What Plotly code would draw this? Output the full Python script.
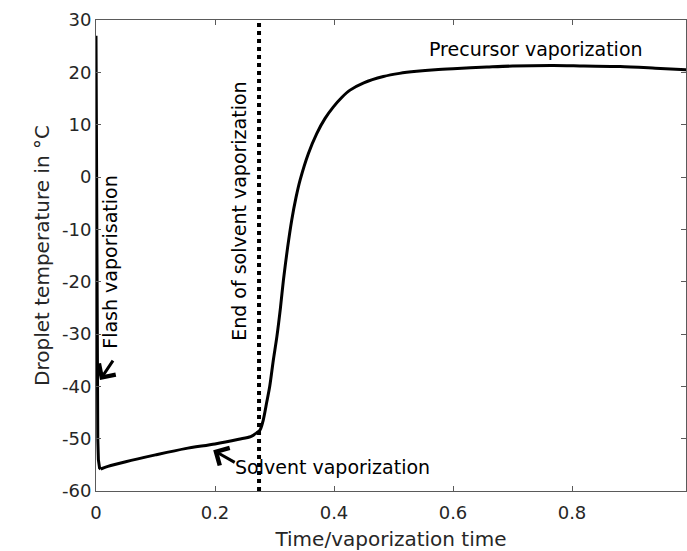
import plotly.graph_objects as go

time_frac = [0, 0.0005, 0.001, 0.0015, 0.002, 0.003, 0.004, 0.006, 0.008, 0.02, 0.05,
             0.1, 0.15, 0.2, 0.24, 0.26, 0.27, 0.276, 0.281, 0.287, 0.292, 0.298, 0.304,
             0.31, 0.315, 0.322, 0.329, 0.336, 0.343, 0.357, 0.371, 0.385, 0.399, 0.413,
             0.427, 0.45, 0.483, 0.51, 0.539, 0.57, 0.6, 0.657, 0.7, 0.769, 0.82, 0.881,
             0.94, 0.993]
temperature = [27, 10, -10, -30, -42, -50, -54, -55.6, -55.8, -55.3, -54.4,
               -53.1, -51.9, -51.0, -50.1, -49.6, -48.9, -48.3, -46.5, -43, -40, -35, -30.5,
               -25, -19.7, -13.5, -8.2, -4, -0.6, 4.5, 8.3, 11.2, 13.4, 15.2,
               16.6, 18.0, 19.2, 19.8, 20.2, 20.5, 20.7, 21.0, 21.2, 21.3, 21.2, 21.1,
               20.8, 20.5]
end_solvent = 0.274
x_ticks = [0, 0.2, 0.4, 0.6, 0.8]
y_ticks = [-60, -50, -40, -30, -20, -10, 0, 10, 20, 30]

TXT = "#262626"
FONT = "DejaVu Sans"
split = 8  # index of the temperature minimum: sharp flash drop before, smooth curve after

fig = go.Figure()
fig.add_trace(go.Scatter(x=[end_solvent, end_solvent], y=[-60, 30], mode="lines",
                         line=dict(color="black", width=4, dash="dot"), showlegend=False))
fig.add_trace(go.Scatter(x=time_frac[:split + 1], y=temperature[:split + 1], mode="lines",
                         line=dict(color="black", width=3), showlegend=False))
fig.add_trace(go.Scatter(x=time_frac[split:], y=temperature[split:], mode="lines",
                         line=dict(color="black", width=3, shape="spline", smoothing=0.8),
                         showlegend=False))

ann = []
def txt(x, y, s, angle=0):
    ann.append(dict(x=x, y=y, xref="x", yref="y", text=s, showarrow=False, textangle=angle,
                    font=dict(family=FONT, size=19, color="black")))
txt(0.0235, -16.2, "Flash vaporisation", -90)
txt(0.240, -6.5, "End of solvent vaporization", -90)
txt(0.397, -55.4, "Solvent vaporization")
txt(0.7395, 24.5, "Precursor vaporization")
ann.append(dict(x=0.0067, y=-38.8, xref="x", yref="y", ax=14, ay=-21, text="", showarrow=True,
                arrowhead=4, arrowsize=1.3, arrowwidth=3, arrowcolor="black"))
ann.append(dict(x=0.197, y=-52.2, xref="x", yref="y", ax=23, ay=13, text="", showarrow=True,
                arrowhead=4, arrowsize=1.3, arrowwidth=3, arrowcolor="black"))

axis_common = dict(showline=True, linecolor="#5a5a5a", linewidth=1, mirror="ticks",
                   ticks="inside", ticklen=5, tickcolor="#5a5a5a", showgrid=False,
                   zeroline=False, tickfont=dict(family=FONT, size=18, color=TXT))
fig.update_layout(
    width=687, height=551, margin=dict(l=96, r=1, t=20, b=60),
    paper_bgcolor="white", plot_bgcolor="white",
    xaxis=dict(range=[0, 0.9916], tickvals=x_ticks, ticktext=[str(v) for v in x_ticks],
               ticklabelstandoff=5,
               title=dict(text="Time/vaporization time", font=dict(family=FONT, size=20, color=TXT),
                          standoff=12),
               **axis_common),
    yaxis=dict(range=[-60, 30], tickvals=y_ticks, ticktext=[str(v) for v in y_ticks],
               title=dict(text="Droplet temperature in °C", font=dict(family=FONT, size=20, color=TXT),
                          standoff=6),
               **axis_common),
    annotations=ann,
)
fig.write_html("out.html")
